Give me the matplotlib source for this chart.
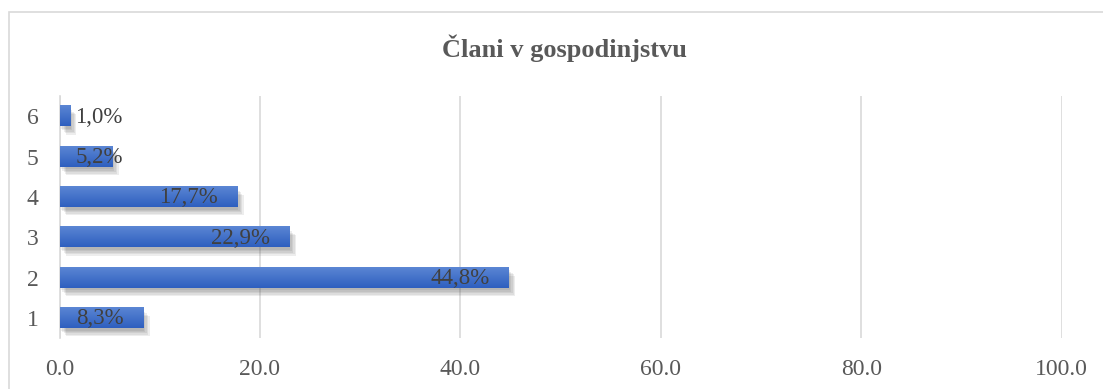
import numpy as np
import matplotlib.pyplot as plt
from matplotlib import patheffects
from matplotlib.colors import LinearSegmentedColormap
from matplotlib.patches import Rectangle

plt.rcParams["font.family"] = ["Liberation Serif", "DejaVu Serif"]

# Podatki: število članov v gospodinjstvu (%)
clani = ["1", "2", "3", "4", "5", "6"]
delezi = [8.3, 44.8, 22.9, 17.7, 5.2, 1.0]
x_ticks = [0, 20, 40, 60, 80, 100]
naslov = "Člani v gospodinjstvu"

W, H, DPI = 1103, 389, 100
fig = plt.figure(figsize=(W / DPI, H / DPI), dpi=DPI)
ax = fig.add_axes([59.5 / W, 1 - 338 / H, (1061.7 - 59.5) / W, (338 - 96) / H])

# okvir grafa
fig.patches.append(Rectangle((8.5 / W, -0.1), 1.2, 1 - 12.5 / H + 0.1,
                             transform=fig.transFigure, fill=False,
                             edgecolor="#d9d9d9", linewidth=1.2))

y = np.arange(len(clani))
bar_h = 0.5
osnova = "#4472c4"

# mehka senca: več plasti z majhno prosojnostjo
senca = [patheffects.SimplePatchShadow(offset=(d, -d - 1), shadow_rgbFace="#404040", alpha=0.09)
         for d in (1, 2, 3, 4, 5)]
bars = ax.barh(y, delezi, height=bar_h, color=osnova, zorder=3,
               path_effects=senca + [patheffects.Normal()])

ax.set_xlim(0, 100)
ax.set_ylim(-0.5, len(clani) - 0.5)

# preliv na stolpcih
cmap = LinearSegmentedColormap.from_list("preliv", ["#2e5fbf", "#5b86d4"])
grad = np.linspace(0, 1, 64).reshape(-1, 1)
for yi, v in zip(y, delezi):
    ax.imshow(grad, extent=[0, v, yi - bar_h / 2, yi + bar_h / 2], origin="lower",
              aspect="auto", cmap=cmap, zorder=4, interpolation="bilinear")
ax.set_xlim(0, 100)
ax.set_ylim(-0.5, len(clani) - 0.5)

ax.set_xticks(x_ticks)
ax.set_xticklabels([f"{t:.1f}" for t in x_ticks])
ax.set_yticks(y)
ax.set_yticklabels(clani)
ax.tick_params(axis="both", length=0, labelsize=17, labelcolor="#595959")
ax.tick_params(axis="x", pad=15)
ax.tick_params(axis="y", pad=15)
ax.xaxis.grid(True, color="#d9d9d9", linewidth=1.2, zorder=0)
ax.set_axisbelow(True)
for s in ["top", "right", "bottom"]:
    ax.spines[s].set_visible(False)
ax.spines["left"].set_color("#d9d9d9")
ax.spines["left"].set_linewidth(1.2)
ax.spines["left"].set_zorder(2)

fig.text((443 + 686) / 2 / W, 1 - 48 / H, naslov, ha="center", va="center",
         fontsize=19, fontweight="bold", color="#595959")

# oznake vrednosti: ob koncu stolpca, pri kratkih stolpcih od osnove naprej
fig.canvas.draw()
r = fig.canvas.get_renderer()
x0 = ax.transData.transform((0, 0))[0]
for yi, v in zip(y, delezi):
    lab = f"{v:.1f}".replace(".", ",") + "%"
    t = ax.annotate(lab, (v, yi), xytext=(-19, -1), textcoords="offset pixels",
                    ha="right", va="center", fontsize=16.5, color="#404040", zorder=6)
    bb = t.get_window_extent(r)
    if bb.x0 < x0 + 16:
        t.remove()
        ax.annotate(lab, (0, yi), xytext=(16, -1), textcoords="offset pixels",
                    ha="left", va="center", fontsize=16.5, color="#404040", zorder=6)

fig.savefig("out.png", dpi=DPI)
